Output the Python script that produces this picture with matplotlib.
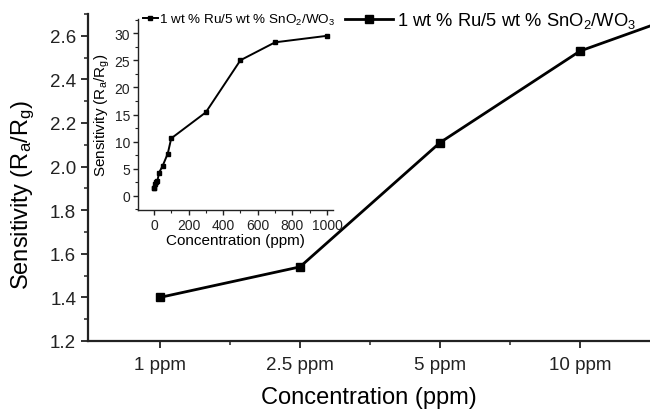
import matplotlib
matplotlib.use('Agg')
import matplotlib.pyplot as plt
from matplotlib.ticker import MultipleLocator, FixedLocator

plt.rcParams['font.family'] = ['Liberation Sans', 'DejaVu Sans']
plt.rcParams['mathtext.fontset'] = 'custom'
plt.rcParams['mathtext.rm'] = 'Liberation Sans'
plt.rcParams['mathtext.it'] = 'Liberation Sans'

# main panel: low concentrations as categories (20 ppm runs off the right edge)
labels = ['1 ppm', '2.5 ppm', '5 ppm', '10 ppm', '20 ppm']
sens_low = [1.40, 1.54, 2.11, 2.53, 2.76]

# inset: full range
conc_full = [1, 2.5, 5, 10, 20, 30, 50, 80, 100, 300, 500, 700, 1000]
sens_full = [1.40, 1.54, 2.11, 2.53, 2.76, 4.3, 5.5, 7.8, 10.6, 15.4, 25.0, 28.3, 29.5]

legend_text = '1 wt % Ru/5 wt % SnO$_2$/WO$_3$'
ylab = 'Sensitivity (R$_a$/R$_g$)'
xlab = 'Concentration (ppm)'

fig = plt.figure(figsize=(6.5, 4.1), dpi=100)
ax = fig.add_axes([88 / 650, 68 / 410, 1 - 88 / 650, 327 / 410])

pos = list(range(len(labels)))
ax.plot(pos, sens_low, color='black', lw=2.0, marker='s', ms=6,
        label=legend_text)
ax.set_xticks(pos[:4])
ax.set_xticklabels(labels[:4])
ax.set_xlim(-0.514, 3.5)
ax.set_ylim(1.2, 2.7)
ax.xaxis.set_minor_locator(FixedLocator([0.5, 1.5, 2.5]))
ax.yaxis.set_major_locator(MultipleLocator(0.2))
ax.yaxis.set_minor_locator(MultipleLocator(0.1))
for s in ('top', 'right'):
    ax.spines[s].set_visible(False)
for s in ('left', 'bottom'):
    ax.spines[s].set_linewidth(1.6)
    ax.spines[s].set_color('#222222')
ax.tick_params(which='major', length=5, width=1.3, labelsize=13.5, colors='#222222')
ax.tick_params(which='minor', length=3, width=1.1, colors='#222222')
ax.tick_params(axis='x', which='major', pad=6)
ax.set_xlabel(xlab, fontsize=17, labelpad=9)
ax.set_ylabel(ylab, fontsize=17)
ax.yaxis.set_label_coords(-0.09, 0.45)
ax.legend(loc='center left', bbox_to_anchor=(345 / 650, 1 - 21 / 410),
          bbox_transform=fig.transFigure, frameon=False, fontsize=13.2,
          handlelength=2.6, handletextpad=0.25, borderpad=0, borderaxespad=0)

ins = fig.add_axes([138 / 650, 199 / 410, 195 / 650, 191 / 410])
ins.plot(conc_full, sens_full, color='black', lw=1.4, marker='s', ms=3.5,
         label=legend_text)
ins.set_xlim(-92, 1035)
ins.set_ylim(-2.6, 32.6)
ins.xaxis.set_major_locator(MultipleLocator(200))
ins.xaxis.set_minor_locator(MultipleLocator(100))
ins.yaxis.set_major_locator(MultipleLocator(5))
ins.yaxis.set_minor_locator(MultipleLocator(2.5))
for s in ('top', 'right'):
    ins.spines[s].set_visible(False)
for s in ('left', 'bottom'):
    ins.spines[s].set_linewidth(1.0)
    ins.spines[s].set_color('#222222')
ins.tick_params(which='major', length=3.5, width=1.0, labelsize=10, pad=2, colors='#222222')
ins.tick_params(which='minor', length=2, width=0.8, colors='#222222')
ins.set_xlabel(xlab, fontsize=11, labelpad=1)
ins.set_ylabel(ylab, fontsize=11, labelpad=2)
ins.patch.set_alpha(0)
ins.legend(loc='center left', bbox_to_anchor=(143 / 650, 1 - 20 / 410),
           bbox_transform=fig.transFigure, frameon=False, fontsize=9.7,
           handlelength=1.1, handletextpad=0.1, borderpad=0, borderaxespad=0)

fig.savefig('out.png', dpi=100)
